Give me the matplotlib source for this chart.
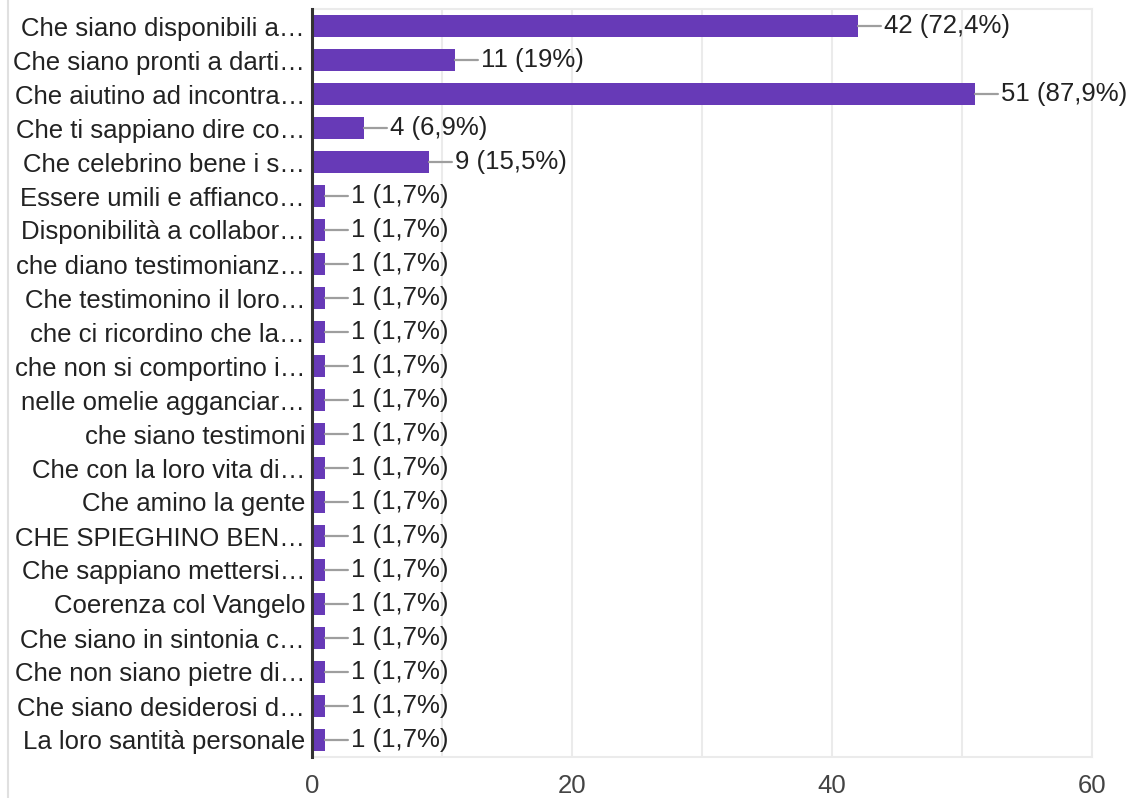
"""Horizontal bar chart of survey answers (Google Forms style)."""

import matplotlib

matplotlib.use("Agg")
import matplotlib.pyplot as plt
from matplotlib.lines import Line2D

plt.rcParams["font.family"] = ["Liberation Sans", "DejaVu Sans"]

labels = [
    "Che siano disponibili a…",
    "Che siano pronti a darti…",
    "Che aiutino ad incontra…",
    "Che ti sappiano dire co…",
    "Che celebrino bene i s…",
    "Essere umili e affianco…",
    "Disponibilità a collabor…",
    "che diano testimonianz…",
    "Che testimonino il loro…",
    "che ci ricordino che la…",
    "che non si comportino i…",
    "nelle omelie agganciar…",
    "che siano testimoni",
    "Che con la loro vita di…",
    "Che amino la gente",
    "CHE SPIEGHINO BEN…",
    "Che sappiano mettersi…",
    "Coerenza col Vangelo",
    "Che siano in sintonia c…",
    "Che non siano pietre di…",
    "Che siano desiderosi d…",
    "La loro santità personale",
]
counts = [42, 11, 51, 4, 9] + [1] * 17
percents = ["72,4", "19", "87,9", "6,9", "15,5"] + ["1,7"] * 17

x_major = [0, 20, 40, 60]
x_minor = [10, 30, 50]

BAR_COLOR = "#673ab7"
TEXT_COLOR = "#222222"
GRID_COLOR = "#ebebeb"
LEADER_COLOR = "#9e9e9e"
FONT_SIZE = 18.5


def main() -> None:
    fig = plt.figure(figsize=(11.3, 7.98), dpi=100)
    ax = fig.add_axes([312 / 1130, 1 - 757 / 798, 780 / 1130, 748 / 798])

    ypos = list(range(len(labels)))
    ax.barh(ypos, counts, height=0.62, color=BAR_COLOR, zorder=3)

    for y, value, pct in zip(ypos, counts, percents):
        ax.annotate(
            f"{value} ({pct}%)",
            xy=(value, y),
            xytext=(18.5, 0),
            textcoords="offset points",
            va="center",
            ha="left",
            fontsize=FONT_SIZE,
            color=TEXT_COLOR,
            arrowprops=dict(arrowstyle="-", color=LEADER_COLOR, lw=1.6,
                            shrinkA=0, shrinkB=0),
            annotation_clip=False,
            zorder=4,
        )

    ax.set_xlim(0, 60)
    ax.set_ylim(len(labels) - 0.5, -0.5)
    ax.set_yticks(ypos)
    ax.set_yticklabels(labels, fontsize=FONT_SIZE, color=TEXT_COLOR)
    ax.set_xticks(x_major)
    ax.set_xticks(x_minor, minor=True)
    ax.set_xticklabels([str(v) for v in x_major], fontsize=FONT_SIZE, color="#444444")
    ax.tick_params(axis="y", length=0, pad=5)
    ax.tick_params(axis="x", which="both", length=0, pad=12)

    ax.grid(axis="x", which="both", color=GRID_COLOR, lw=1.5, zorder=0)
    for side in ["top", "right", "bottom"]:
        ax.spines[side].set_color(GRID_COLOR)
        ax.spines[side].set_linewidth(1.5)
    ax.spines["left"].set_color("#333333")
    ax.spines["left"].set_linewidth(2.2)
    ax.spines["left"].set_zorder(5)

    # light card border on the left edge
    fig.add_artist(Line2D([8 / 1130, 8 / 1130], [0, 1], color="#e0e0e0", lw=1.5,
                          transform=fig.transFigure))

    fig.savefig("out.png", dpi=100)
    plt.close(fig)


if __name__ == "__main__":
    main()
